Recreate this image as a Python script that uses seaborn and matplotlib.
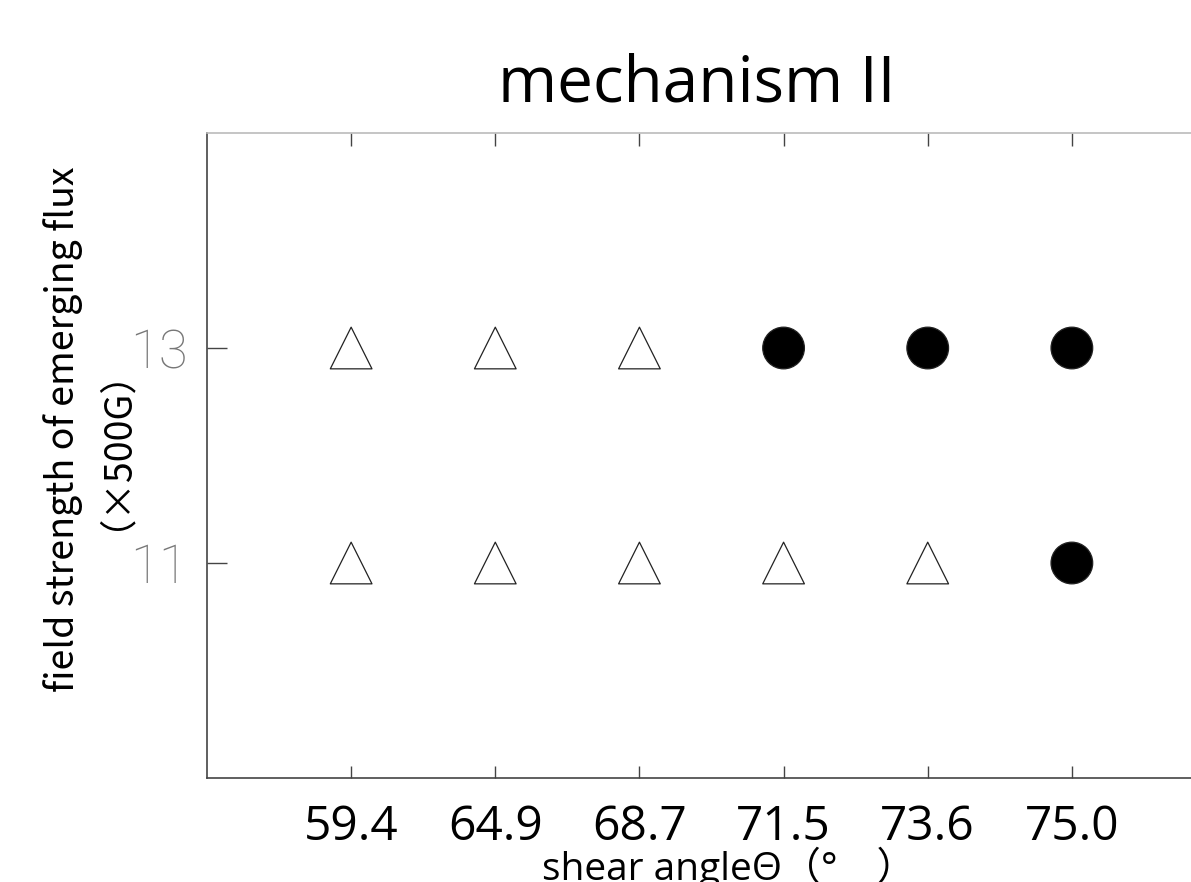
import matplotlib
matplotlib.use("Agg")
import matplotlib.pyplot as plt
import pandas as pd
import seaborn as sns

# data
shear_angles = ["59.4", "64.9", "68.7", "71.5", "73.6", "75.0"]
field_levels = [13, 11]
result_13 = ["triangle", "triangle", "triangle", "circle", "circle", "circle"]
result_11 = ["triangle", "triangle", "triangle", "triangle", "triangle", "circle"]

df = pd.DataFrame({
    "angle": shear_angles * 2,
    "field": [field_levels[0]] * 6 + [field_levels[1]] * 6,
    "result": result_13 + result_11,
})

sns.set_style("ticks")
plt.rcParams["font.family"] = ["Open Sans", "Noto Sans CJK JP", "DejaVu Sans"]
plt.rcParams["text.color"] = "black"

fig = plt.figure(figsize=(11.91, 8.82), dpi=100)
ax = fig.add_axes([0.1738, 0.1179, 0.8472, 0.7313])

sns.scatterplot(
    data=df, x="angle", y="field", hue="result", style="result",
    markers={"triangle": "^", "circle": "o"},
    palette={"triangle": "white", "circle": "black"},
    edgecolor="#222222", linewidth=0.9, s=900, legend=False, ax=ax,
)

ax.set_xlim(-1, len(shear_angles))
ax.set_ylim(9, 15)
ax.set_yticks(field_levels)
ax.set_yticklabels([str(v) for v in field_levels], fontsize=38,
                   color="#777777", family=["Roboto", "DejaVu Sans"], fontweight="light")
ax.set_xticks(range(len(shear_angles)))
ax.set_xticklabels(shear_angles, fontsize=34.5, color="black")

ax.tick_params(axis="both", direction="in", top=True, right=True, colors="#444444",
               width=1.0)
ax.tick_params(axis="x", length=9, pad=18, labelcolor="black")
ax.tick_params(axis="y", length=14.5, pad=14, labelcolor="#777777")

for side in ["left", "bottom", "right"]:
    ax.spines[side].set_color("#444444")
    ax.spines[side].set_linewidth(1.2)
ax.spines["top"].set_color("#bbbbbb")
ax.spines["top"].set_linewidth(1.2)

ax.set_xlabel("shear angleΘ（°　）", fontsize=28, color="black")
ax.xaxis.set_label_coords(0.517, -0.106)
ax.set_ylabel("field strength of emerging flux\n（×500G）", fontsize=27,
              linespacing=0.78, color="black", family=["Noto Sans CJK JP", "DejaVu Sans"])
ax.yaxis.set_label_coords(-0.091, 0.54)

fig.text(0.585, 0.8844, "mechanism II", ha="center", va="baseline", fontsize=46,
         color="black")

fig.savefig("out.png", dpi=100)
